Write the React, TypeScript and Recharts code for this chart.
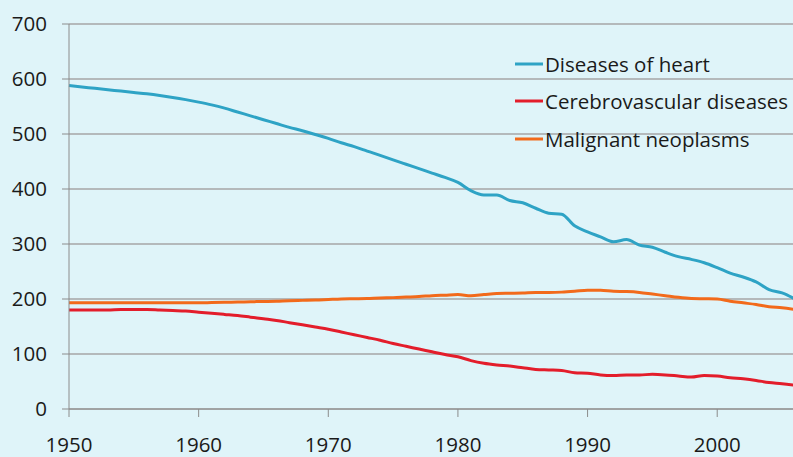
import { CartesianGrid, Line, LineChart, XAxis, YAxis } from 'recharts'

const years = [
  1950, 1951, 1952, 1953, 1954, 1955, 1956, 1957, 1958, 1959,
  1960, 1961, 1962, 1963, 1964, 1965, 1966, 1967, 1968, 1969,
  1970, 1971, 1972, 1973, 1974, 1975, 1976, 1977, 1978, 1979,
  1980, 1981, 1982, 1983, 1984, 1985, 1986, 1987, 1988, 1989,
  1990, 1991, 1992, 1993, 1994, 1995, 1996, 1997, 1998, 1999,
  2000, 2001, 2002, 2003, 2004, 2005, 2006,
]

const heart = [
  588, 585.5, 583, 580.5, 578, 575.5, 573, 570, 566.5, 562.5,
  558, 553, 547, 540, 533, 526, 519, 512, 506, 499,
  492, 484, 477, 469, 461, 453, 445, 437, 429, 421,
  412, 397, 389, 389, 379, 375, 365, 356, 354, 333,
  322, 313, 304, 308, 298, 294, 285, 277, 272, 266,
  257, 247, 240, 231, 217, 211, 200,
]

const cerebro = [
  180, 180, 180, 180, 181, 181, 181, 180, 179, 178,
  176, 174, 172, 170, 167, 164, 161, 157, 153, 149,
  145, 140, 135, 130, 125, 119, 114, 109, 104, 99,
  95, 88, 83, 80, 78, 75, 72, 71, 70, 66,
  65, 62, 61, 62, 62, 63, 62, 60, 58, 61,
  60, 57, 55, 52, 48, 46, 43,
]

const cancer = [
  193, 193, 193, 193, 193, 193, 193, 193, 193, 193,
  193, 193.5, 194, 194.5, 195, 195.5, 196, 197, 197.5, 198,
  199, 200, 200.5, 201, 202, 202.5, 203.5, 204.5, 206, 207,
  208, 206, 208, 210, 210.5, 211, 212, 212, 212.5, 214,
  216, 216, 214, 213.5, 212, 209, 206, 203, 201, 200.5,
  200, 196, 193, 190, 186, 184, 181,
]

const xTicks = [1950, 1960, 1970, 1980, 1990, 2000]
const yTicks = [0, 100, 200, 300, 400, 500, 600, 700]

const series = [
  { key: 'heart', name: 'Diseases of heart', color: '#2ea3c5' },
  { key: 'cerebro', name: 'Cerebrovascular diseases', color: '#e31d2b' },
  { key: 'cancer', name: 'Malignant neoplasms', color: '#f26a1b' },
]

const data = years.map((year, i) => ({
  year,
  heart: heart[i],
  cerebro: cerebro[i],
  cancer: cancer[i],
}))

const font = '"Open Sans", sans-serif'
const textColor = '#1a1a1a'

// legend drawn as plain html over the plot, so it doesn't steal chart height
function LegendBox() {
  return (
    <div
      style={{
        position: 'absolute',
        top: 45,
        left: 514,
        fontFamily: font,
        fontSize: 20.5,
        color: textColor,
      }}
    >
      {series.map((s) => (
        <div key={s.key} style={{ display: 'flex', alignItems: 'center', height: 37.5 }}>
          <svg width={30} height={6} style={{ marginRight: 1 }}>
            <line x1={1} y1={3} x2={29} y2={3} stroke={s.color} strokeWidth={3} />
          </svg>
          <span style={{ whiteSpace: 'nowrap' }}>{s.name}</span>
        </div>
      ))}
    </div>
  )
}

export default function App() {
  return (
    <div
      style={{
        position: 'absolute',
        left: 0,
        top: 0,
        width: 793,
        height: 457,
        overflow: 'hidden',
        background: '#dff4f9',
      }}
    >
      <LineChart
        width={800}
        height={457}
        data={data}
        margin={{ top: 24, right: 5, left: 0, bottom: 0 }}
      >
        <CartesianGrid vertical={false} stroke="#a6a6a6" strokeWidth={1.5} />
        <XAxis
          dataKey="year"
          type="number"
          domain={[1950, 2006]}
          ticks={xTicks}
          height={48}
          stroke="#8c8c8c"
          tickSize={8}
          tickMargin={20}
          tick={{ fill: textColor, fontSize: 20.5, fontFamily: font }}
        />
        <YAxis
          domain={[0, 700]}
          ticks={yTicks}
          width={69}
          stroke="#8c8c8c"
          tickSize={7}
          tickMargin={15}
          tick={{ fill: textColor, fontSize: 20.5, fontFamily: font }}
        />
        {series.map((s) => (
          <Line
            key={s.key}
            type="monotone"
            dataKey={s.key}
            name={s.name}
            stroke={s.color}
            strokeWidth={3}
            dot={false}
            isAnimationActive={false}
          />
        ))}
      </LineChart>
      <LegendBox />
    </div>
  )
}
